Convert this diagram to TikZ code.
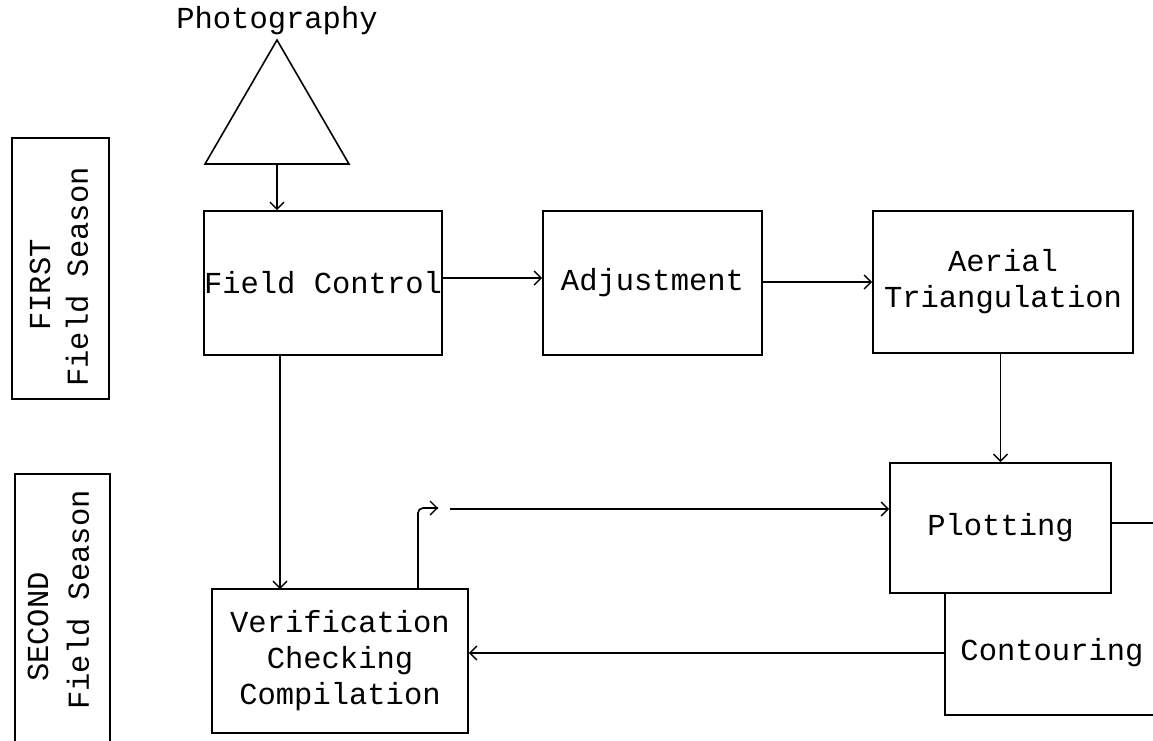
\documentclass[tikz,border=0pt]{standalone}
\usepackage{fontspec}
\setmainfont{Liberation Mono}
\usetikzlibrary{arrows.meta}
\newcommand\twfont{\fontsize{30.5}{36}\selectfont}
\begin{document}
\begin{tikzpicture}[x=1pt,y=-1pt,
  ln/.style={line width=1.6pt},
  box/.style={draw, line width=1.6pt, inner sep=0pt, align=center, font=\twfont},
  lbl/.style={inner sep=0pt, align=center, font=\twfont},
  arr/.style={line width=1.4pt, -{Straight Barb[length=7pt,width=14pt,line width=1.4pt]}}]
\clip (0,0) rectangle (1153,740);
% side labels
\node[draw, line width=1.6pt, minimum width=97pt, minimum height=261pt, inner sep=0pt] (first) at (60.5,268.5) {};
\node[lbl, rotate=90] (firstA) at (40,285) {FIRST};
\node[lbl, rotate=90] (firstB) at (77,277) {Field Season};
\draw[ln] (15,760) -- (15,474) -- (110,474) -- (110,760);
\node[lbl, rotate=90] (secA) at (38,627) {SECOND};
\node[lbl, rotate=90] (secB) at (78,600) {Field Season};
% photography triangle
\node[lbl] (photo) at (277,21) {Photography};
\coordinate (tA) at (277,40);
\coordinate (tL) at (205,164);
\coordinate (tR) at (349,164);
\draw[ln, line join=miter] (tA) -- (tL) -- (tR) -- cycle;
% boxes
\node[box, minimum width=236pt, minimum height=144pt] (field) at (323,283) {Field Control};
\node[box, minimum width=219pt, minimum height=144pt] (adj) at (652.5,283) {Adjustment};
\node[box, minimum width=260pt, minimum height=142pt] (aer) at (1003,282) {Aerial\\Triangulation};
\node[box, minimum width=221pt, minimum height=130pt] (plot) at (1000.5,528) {Plotting};
\node[box, minimum width=256pt, minimum height=144pt] (verif) at (340,661) {Verification\\Checking\\Compilation};
% contouring
\draw[ln] (945,593) -- (945,715) -- (1160,715);
\node[lbl] (cont) at (1052,653) {Contouring};
\coordinate (contW) at (945,653);
\coordinate (plotE) at (1111,523);
\coordinate (rightEnd) at (1160,523);
% connectors
\draw[arr] (tL -| tA) -- (tA |- field.north);
\draw[arr] (field.east |- 0,278) -- (adj.west |- 0,278);
\draw[arr] (adj.east |- 0,282) -- (aer.west |- 0,282);
\draw[arr] (plot.north |- aer.south) -- (plot.north);
\draw[ln] (plotE) -- (rightEnd);
\draw[arr] (280,355) -- (280,589);
\draw[arr] (contW) -- (contW -| verif.east);
\coordinate (fb0) at (418,589);
\coordinate (fb1) at (418,508);
\coordinate (fb2) at (438,508);
\coordinate (fb3) at (450,509);
\draw[ln, rounded corners=5pt] (fb0) -- (fb1) -- (fb2);
\draw[arr] (426,508) -- (fb2);
\draw[arr] (fb3) -- (fb3 -| plot.west) ;
\end{tikzpicture}
\end{document}
